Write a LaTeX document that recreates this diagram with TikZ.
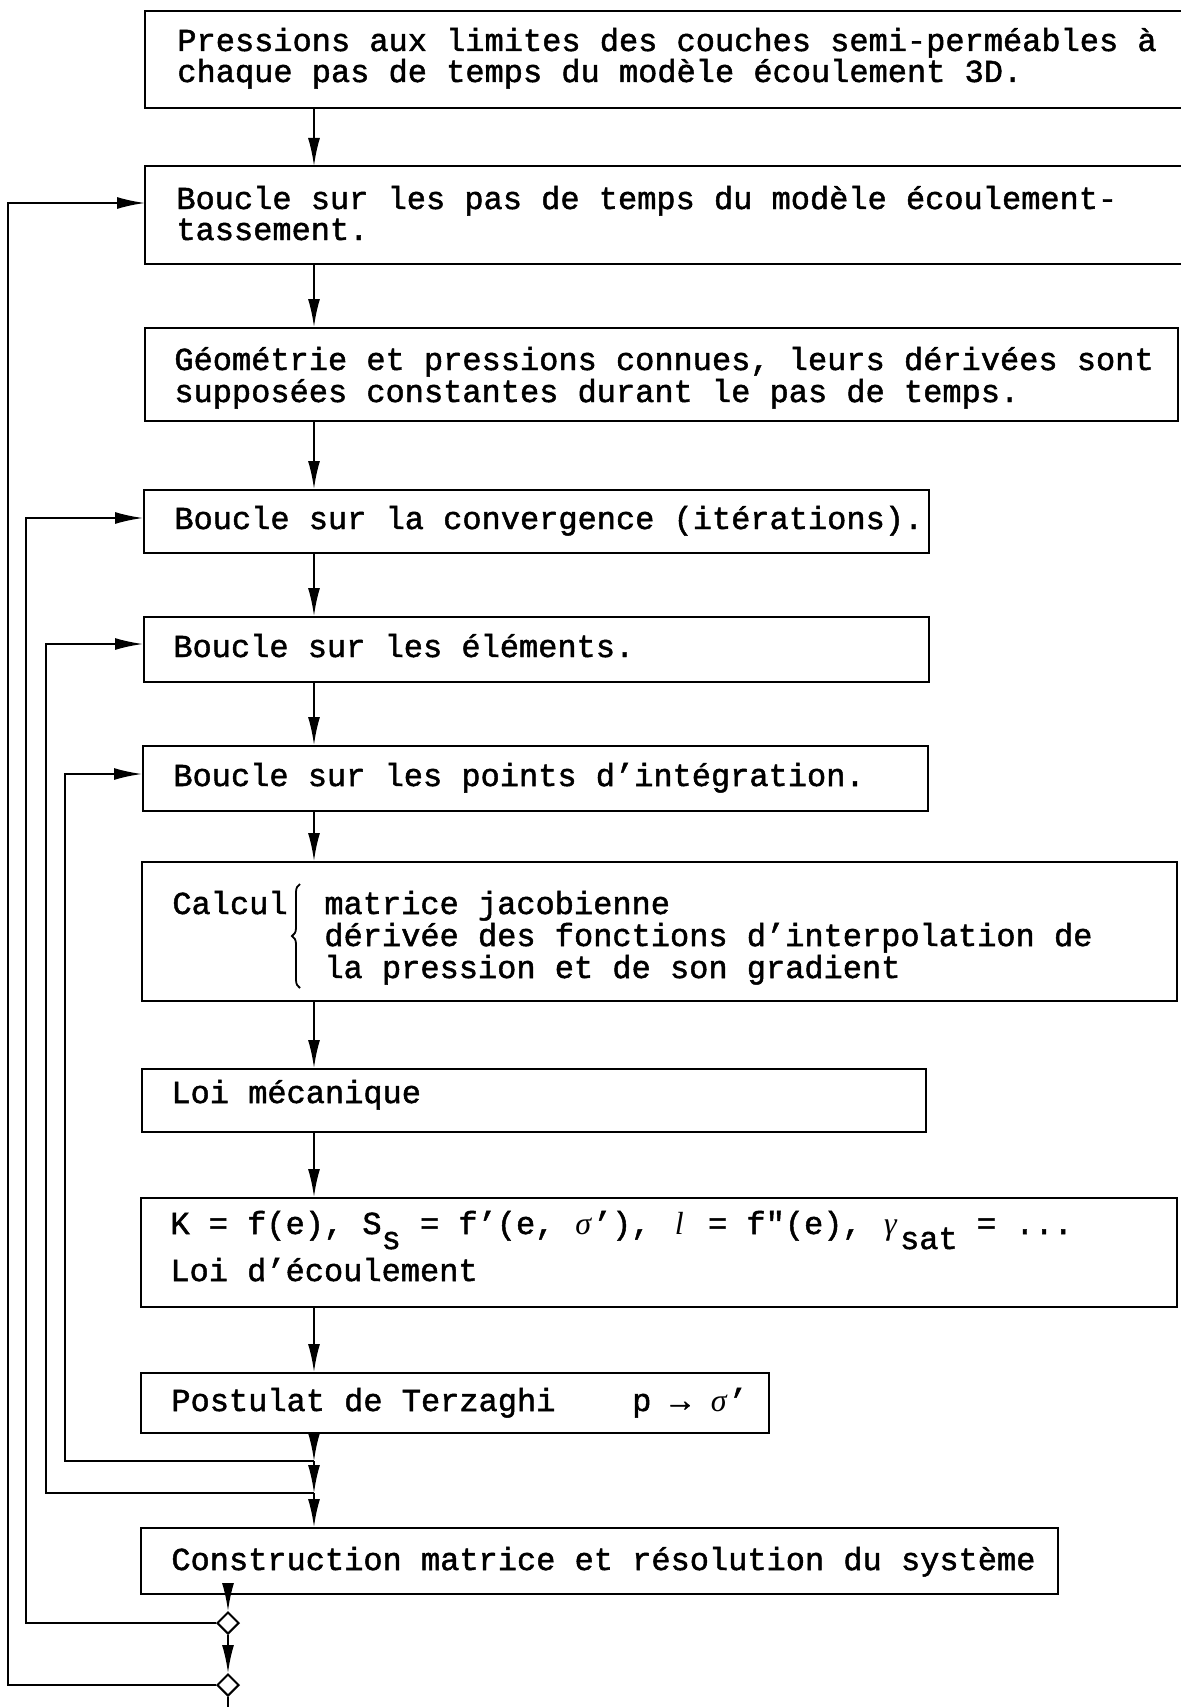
\documentclass[tikz,border=0pt]{standalone}
\usepackage{fontspec}
\setmonofont{Liberation Mono}[FakeBold=1.5]
\newfontfamily\gkfont{Liberation Serif}
\usetikzlibrary{arrows.meta,shapes.geometric,decorations.pathreplacing}
\newcommand\dn[1]{\raisebox{-7.5pt}{#1}}
\newcommand\gi[1]{\makebox[9.6pt][c]{\gkfont\itshape #1}}
\begin{document}
\begin{tikzpicture}[x=0.5pt,y=-0.5pt,
  box/.style={draw,line width=1pt,inner sep=0pt,anchor=north west},
  openbox/.style={inner sep=0pt,anchor=north west},
  txt/.style={anchor=base west,inner sep=0pt,font=\ttfamily\fontsize{16}{16}\selectfont},
  arr/.style={line width=1pt,-{Latex[length=14pt,width=6pt]}},
  ln/.style={line width=1pt},
  dia/.style={diamond,draw,line width=1pt,inner sep=0pt,minimum width=11pt,minimum height=11pt}]
\fill[white] (0,0) rectangle (1181,1707);
\useasboundingbox (0,0) rectangle (1181,1707);
% boxes
\node[openbox,minimum width=518pt,minimum height=48pt] (b1) at (145,11) {};
\draw[ln] (b1.north east) -- (b1.north west) -- (b1.south west) -- (b1.south east);
\node[openbox,minimum width=518pt,minimum height=48.5pt] (b2) at (145,166) {};
\draw[ln] (b2.north east) -- (b2.north west) -- (b2.south west) -- (b2.south east);
\node[box,minimum width=516.5pt,minimum height=46.5pt] (b3) at (144,327) {};
\node[box,minimum width=392.5pt,minimum height=31.5pt] (b4) at (143,489) {};
\node[box,minimum width=392.5pt,minimum height=32.5pt] (b5) at (143,616) {};
\node[box,minimum width=392.5pt,minimum height=32.5pt] (b6) at (142,745) {};
\node[box,minimum width=517.5pt,minimum height=69.5pt] (b7) at (141,861) {};
\node[box,minimum width=392pt,minimum height=31.5pt] (b8) at (141,1068) {};
\node[box,minimum width=518pt,minimum height=54.5pt] (b9) at (140,1197) {};
\node[box,minimum width=314pt,minimum height=30pt] (b10) at (140,1372) {};
\node[box,minimum width=458.5pt,minimum height=33pt] (b11) at (140,1527) {};
% texts
\node[txt] (t1a) at (177,51) {Pressions aux limites des couches semi-perméables à};
\node[txt] (t1b) at (177,82) {chaque pas de temps du modèle écoulement 3D.};
\node[txt] (t2a) at (176,209) {Boucle sur les pas de temps du modèle écoulement-};
\node[txt] (t2b) at (176,240) {tassement.};
\node[txt] (t3a) at (174,370) {Géométrie et pressions connues, leurs dérivées sont};
\node[txt] (t3b) at (174,402) {supposées constantes durant le pas de temps.};
\node[txt] (t4) at (174,529) {Boucle sur la convergence (itérations).};
\node[txt] (t5) at (173,657) {Boucle sur les éléments.};
\node[txt] (t6) at (173,786) {Boucle sur les points d’intégration.};
\node[txt] (t7a) at (172,914) {Calcul};
\coordinate (brb) at (300,988);
\coordinate (brt) at (300,884);
\draw[line width=0.9pt,decorate,decoration={brace,amplitude=4pt,aspect=0.5}] (brb) -- (brt);
\node[txt] (t7b) at (324,914) {matrice jacobienne};
\node[txt] (t7c) at (324,946) {dérivée des fonctions d’interpolation de};
\node[txt] (t7d) at (324,978) {la pression et de son gradient};
\node[txt] (t8) at (171,1103) {Loi mécanique};
\node[txt] (t9a) at (170,1234) {K = f(e), S\dn{s} = f’(e, \gi{σ}’), \gi{l} = f"(e), \gi{γ}\dn{sat} = ...};
\node[txt] (t9b) at (170,1281) {Loi d’écoulement};
\node[txt] (t10) at (171,1411) {Postulat de Terzaghi\ \ \ \ p → \gi{σ}’};
\node[txt] (t11) at (171,1570) {Construction matrice et résolution du système};
% axis
\coordinate (ax) at (314,0);
\draw[arr] (ax |- b1.south) -- (ax |- b2.north);
\draw[arr] (ax |- b2.south) -- (ax |- b3.north);
\draw[arr] (ax |- b3.south) -- (ax |- b4.north);
\draw[arr] (ax |- b4.south) -- (ax |- b5.north);
\draw[arr] (ax |- b5.south) -- (ax |- b6.north);
\draw[arr] (ax |- b6.south) -- (ax |- b7.north);
\draw[arr] (ax |- b7.south) -- (ax |- b8.north);
\draw[arr] (ax |- b8.south) -- (ax |- b9.north);
\draw[arr] (ax |- b9.south) -- (ax |- b10.north);
\coordinate (j1) at (314,1461);
\coordinate (j2) at (314,1493);
\draw[arr] (ax |- b10.south) -- (j1);
\draw[arr] (j1) -- (j2);
\draw[arr] (j2) -- (ax |- b11.north);
% diamonds
\node[dia] (d1) at (228,1623) {};
\node[dia] (d2) at (228,1685) {};
\draw[arr] (d1 |- b11.south) -- (d1.north);
\draw[arr] (d1.south) -- (d2.north);
\coordinate (e) at (228,1707);
\draw[ln] (d2.south) -- (e);
% loops
\coordinate (l4) at (65,774);
\draw[arr] (j1) -| (l4) -- (l4 -| b6.west);
\coordinate (l3) at (46,644);
\draw[arr] (j2) -| (l3) -- (l3 -| b5.west);
\coordinate (l2) at (26,518);
\draw[arr] (d1.west) -| (l2) -- (l2 -| b4.west);
\coordinate (l1) at (8,203);
\draw[arr] (d2.west) -| (l1) -- (l1 -| b2.west);
\end{tikzpicture}
\end{document}
